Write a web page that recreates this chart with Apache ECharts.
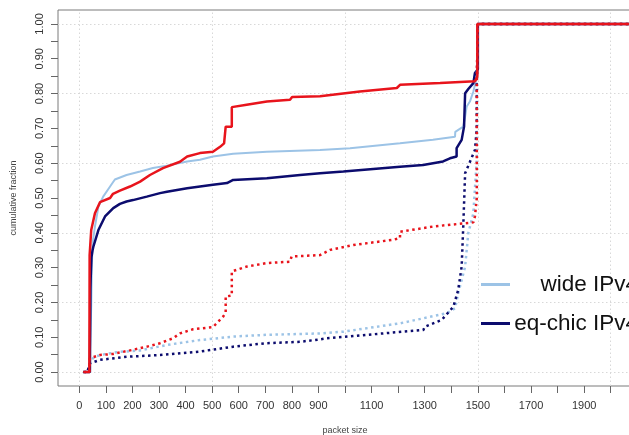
<!DOCTYPE html>
<html>
<head>
<meta charset="utf-8">
<script src="https://cdn.jsdelivr.net/npm/echarts@6/dist/echarts.min.js"></script>
<style>
html,body{margin:0;padding:0;background:#fff;}
#chart{width:629px;height:435px;}
</style>
</head>
<body>
<div id="chart"></div>
<script>
// 数据: [packet size, cumulative fraction]
var wideSolid = [[20,0],[38,0],[45,0.19],[47,0.30],[50,0.37],[59,0.418],[72,0.475],[90,0.504],[116,0.533],[134,0.553],[178,0.566],[229,0.576],[277,0.586],[330,0.593],[406,0.605],[454,0.61],[503,0.619],[579,0.627],[706,0.633],[906,0.638],[1019,0.643],[1207,0.657],[1331,0.667],[1414,0.676],[1415,0.69],[1445,0.705],[1452,0.71],[1452,0.734],[1458,0.763],[1470,0.777],[1483,0.806],[1492,0.835],[1500,0.86],[1500,1],[2080,1]];
var eqSolid = [[20,0],[40,0],[42,0.24],[43,0.27],[46,0.33],[50,0.35],[53,0.36],[72,0.408],[97,0.447],[128,0.471],[153,0.483],[178,0.49],[202,0.494],[254,0.504],[304,0.514],[330,0.518],[406,0.528],[503,0.538],[556,0.543],[579,0.552],[706,0.557],[831,0.566],[906,0.571],[994,0.576],[1207,0.59],[1294,0.595],[1369,0.605],[1395,0.614],[1420,0.619],[1420,0.643],[1439,0.667],[1448,0.705],[1452,0.71],[1452,0.801],[1464,0.813],[1483,0.83],[1489,0.859],[1500,0.87],[1500,1],[2080,1]];
var redSolid = [[21,0],[38,0],[39,0.336],[44,0.34],[45,0.408],[59,0.456],[78,0.488],[116,0.5],[127,0.512],[153,0.521],[191,0.533],[229,0.547],[266,0.566],[315,0.586],[379,0.604],[406,0.619],[454,0.629],[503,0.633],[530,0.647],[545,0.657],[551,0.66],[551,0.705],[574,0.705],[574,0.761],[630,0.768],[706,0.777],[793,0.782],[801,0.79],[906,0.792],[1056,0.806],[1195,0.816],[1207,0.825],[1358,0.83],[1489,0.835],[1498,0.85],[1498,1],[2080,1]];
var redDotted = [[15,0],[38,0],[40,0.04],[78,0.049],[127,0.052],[202,0.064],[255,0.073],[304,0.083],[353,0.097],[379,0.111],[428,0.123],[503,0.129],[541,0.159],[551,0.17],[551,0.217],[574,0.22],[574,0.289],[630,0.303],[706,0.313],[793,0.317],[799,0.332],[906,0.336],[944,0.351],[1031,0.365],[1182,0.38],[1207,0.385],[1207,0.403],[1331,0.418],[1483,0.43],[1489,0.447],[1496,0.5],[1496,0.85],[1500,1],[2080,1]];
var wideDotted = [[15,0],[30,0],[38,0.02],[45,0.035],[60,0.045],[100,0.052],[150,0.058],[229,0.062],[330,0.078],[454,0.092],[579,0.102],[706,0.107],[906,0.111],[994,0.116],[1207,0.14],[1383,0.169],[1414,0.183],[1426,0.226],[1452,0.303],[1464,0.399],[1483,0.456],[1496,0.61],[1496,0.83],[1500,1],[2080,1]];
var eqDotted = [[15,0],[30,0],[40,0.025],[78,0.035],[178,0.044],[304,0.049],[454,0.059],[579,0.073],[706,0.083],[831,0.087],[906,0.094],[931,0.097],[1082,0.107],[1295,0.121],[1300,0.13],[1364,0.15],[1408,0.188],[1426,0.236],[1439,0.303],[1445,0.418],[1452,0.571],[1489,0.638],[1496,0.7],[1496,0.83],[1500,1],[2080,1]];

var xTicks = [0,100,200,300,400,500,600,700,800,900,1000,1100,1200,1300,1400,1500,1600,1700,1800,1900,2000];
var xLabels = [0,100,200,300,400,500,600,700,800,900,1100,1300,1500,1700,1900];
var yTicks = [0,0.05,0.1,0.15,0.2,0.25,0.3,0.35,0.4,0.45,0.5,0.55,0.6,0.65,0.7,0.75,0.8,0.85,0.9,0.95,1];
var yLabels = [0,0.1,0.2,0.3,0.4,0.5,0.6,0.7,0.8,0.9,1];
var gridX = [0,500,1000,1500,2000];
var gridY = [0,0.2,0.4,0.6,0.8,1];

var chart = echarts.init(document.getElementById('chart'));

var gridLines = [];
gridX.forEach(function(v){ gridLines.push({xAxis: v}); });
gridY.forEach(function(v){ gridLines.push({yAxis: v}); });

var lightBlue = '#9cc3e6', navy = '#0c0c6e', red = '#e8141c';

function line(name, data, color, width, dotted){
	return {
		name: name,
		type: 'line',
		data: data,
		symbol: 'none',
		color: color,
		lineStyle: {color: color, width: width, type: dotted ? [2.5, 3.5] : 'solid'},
		silent: true,
		animation: false
	};
}

var series = [
	line('wide IPv4', wideSolid, lightBlue, 2, false),
	line('eq-chic IPv4', eqSolid, navy, 2.5, false),
	line('wide bytes', wideDotted, lightBlue, 2.5, true),
	line('eq-chic bytes', eqDotted, navy, 2.5, true),
	line('red IPv4', redSolid, red, 2.5, false),
	line('red bytes', redDotted, red, 2.5, true)
];
// 网格虚线
series[0].markLine = {
	silent: true,
	symbol: 'none',
	z: 1,
	animation: false,
	label: {show: false},
	lineStyle: {color: '#d8d8d8', width: 1, type: [1.5, 2.5]},
	data: gridLines
};

var option = {
	animation: false,
	grid: {left: 58, top: 10, right: -3, bottom: 49, show: true, borderColor: '#7a7a7a', borderWidth: 1,
		containLabel: false, outerBoundsMode: 'none'},
	legend: {
		data: ['wide IPv4', 'eq-chic IPv4'],
		orient: 'vertical',
		left: 476,
		top: 268,
		icon: 'rect',
		itemWidth: 29,
		itemHeight: 3,
		itemGap: 16,
		selectedMode: false,
		formatter: '{t|{name}}',
		textStyle: {
			rich: {t: {width: 123, align: 'right', fontSize: 22.5, lineHeight: 22, color: '#111', fontFamily: 'Liberation Sans'}}
		}
	},
	xAxis: {
		type: 'value',
		min: -80,
		max: 2080,
		name: 'packet size',
		nameLocation: 'middle',
		nameGap: 40,
		nameTextStyle: {fontSize: 9, color: '#444', fontFamily: 'Liberation Sans'},
		axisLine: {show: false, onZero: false},
		axisTick: {show: true, length: 7, customValues: xTicks, lineStyle: {color: '#666'}},
		axisLabel: {customValues: xLabels, fontSize: 11, color: '#333', margin: 14, fontFamily: 'Liberation Sans',
			formatter: function(v){ return String(v); }},
		splitLine: {show: false}
	},
	yAxis: {
		type: 'value',
		min: -0.04,
		max: 1.04,
		name: 'cumulative fraction',
		nameLocation: 'middle',
		nameGap: 40,
		nameTextStyle: {fontSize: 9, color: '#444', fontFamily: 'Liberation Sans'},
		axisLine: {show: false, onZero: false},
		axisTick: {show: true, length: 7, customValues: yTicks, lineStyle: {color: '#666'}},
		axisLabel: {customValues: yLabels, rotate: 90, fontSize: 11, color: '#333', margin: 13, fontFamily: 'Liberation Sans',
			formatter: function(v){ return v.toFixed(2); }},
		splitLine: {show: false}
	},
	series: series
};
chart.setOption(option);
</script>
</body>
</html>
